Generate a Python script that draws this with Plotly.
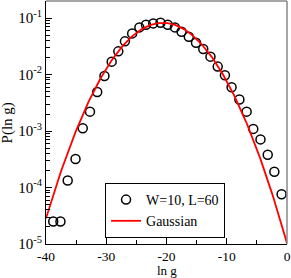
import numpy as np
import plotly.graph_objects as go

# Data
ln_g = [-38.8, -37.6, -36.4, -35.1, -33.9, -32.7, -31.5, -30.3, -29.1, -28.0, -26.9,
        -25.7, -24.5, -23.4, -22.2, -21.0, -19.8, -18.6, -17.5, -16.3, -15.1, -13.9,
        -12.7, -11.5, -10.3, -9.2, -7.9, -6.7, -5.6, -4.4, -3.2, -2.1, -0.9]
p_ln_g = [2.5e-5, 2.5e-5, 1.33e-4, 3.2e-4, 1.12e-3, 2.2e-3, 4.9e-3, 9.4e-3, 0.0169, 0.0257, 0.0386,
          0.0534, 0.0682, 0.0762, 0.0803, 0.0826, 0.0762, 0.0682, 0.0573, 0.0467, 0.0366, 0.0282,
          0.0207, 0.0138, 9.7e-3, 5.94e-3, 3.6e-3, 2.2e-3, 1.09e-3, 7.1e-4, 3.8e-4, 1.9e-4, 7.6e-5]

# Gaussian fit parameters (estimated)
gauss_mu = -20.6
gauss_sigma = 4.86
gauss_x = np.linspace(-40, 0, 201)
gauss_y = np.exp(-(gauss_x - gauss_mu) ** 2 / (2 * gauss_sigma ** 2)) / (np.sqrt(2 * np.pi) * gauss_sigma)

x_ticks = [-40, -30, -20, -10, 0]
x_ticklabels = ["-40", "-30", "-20", "-10", "0"]
y_ticks = [1e-5, 1e-4, 1e-3, 1e-2, 1e-1]
y_ticklabels = ["10<sup>-5</sup>", "10<sup>-4</sup>", "10<sup>-3</sup>", "10<sup>-2</sup>", "10<sup>-1</sup>"]
y_minor = [k * 10.0 ** n for n in range(-5, 0) for k in range(2, 10)]

x_title = "ln g"
y_title = "P(ln g)"

font_family = "Liberation Serif, Times New Roman, serif"

fig = go.Figure()
fig.add_trace(go.Scatter(
    x=ln_g, y=p_ln_g, mode="markers", name="W=10, L=60",
    marker=dict(symbol="circle-open", size=9, color="black", line=dict(width=1.5, color="black")),
))
fig.add_trace(go.Scatter(
    x=gauss_x, y=gauss_y, mode="lines", name="Gaussian",
    line=dict(color="red", width=1.8),
))

fig.update_layout(
    width=291, height=278,
    margin=dict(l=46, r=4, t=1, b=34, autoexpand=False),
    paper_bgcolor="white", plot_bgcolor="white",
    font=dict(family=font_family, size=15, color="black"),
    showlegend=True,
    legend=dict(
        x=0.245, y=0.251, xanchor="left", yanchor="top",
        bordercolor="black", borderwidth=1, bgcolor="white",
        font=dict(family=font_family, size=14, color="black"),
        tracegroupgap=0, itemwidth=30,
    ),
    annotations=[
        dict(text=x_title, xref="paper", yref="paper", x=0.5, y=-0.144,
             xanchor="center", yanchor="bottom", showarrow=False, borderpad=0,
             font=dict(family=font_family, size=13, color="black")),
        dict(text=y_title, xref="paper", yref="paper", x=-0.158, y=0.5,
             xanchor="center", yanchor="middle", showarrow=False, textangle=-90,
             font=dict(family=font_family, size=15, color="black")),
    ],
)
fig.update_xaxes(
    range=[-40, 0], tickmode="array", tickvals=x_ticks, ticktext=x_ticklabels,
    ticks="inside", ticklen=6, tickwidth=1, tickcolor="black",
    minor=dict(tickmode="array", tickvals=[-35, -25, -15, -5], ticks="inside", ticklen=4, tickcolor="black"),
    showline=True, linecolor="black", linewidth=1, mirror=False,
    showgrid=False, zeroline=False, automargin=False,
    tickfont=dict(size=13.5),
)
fig.update_yaxes(
    type="log", range=[-5, np.log10(0.2)], tickmode="array", tickvals=y_ticks, ticktext=y_ticklabels,
    ticks="inside", ticklen=6, tickwidth=1, tickcolor="black",
    minor=dict(tickmode="array", tickvals=y_minor, ticks="inside", ticklen=4, tickcolor="black"),
    showline=True, linecolor="black", linewidth=1, mirror=False,
    showgrid=False, zeroline=False, automargin=False,
    tickfont=dict(size=15),
)
# grey frame on top and right
fig.add_shape(type="line", xref="paper", yref="paper", x0=0, x1=1, y0=1, y1=1,
              line=dict(color="#888888", width=1.5))
fig.add_shape(type="line", xref="paper", yref="paper", x0=1, x1=1, y0=0, y1=1,
              line=dict(color="#888888", width=1.5))

fig.write_html("out.html", config={"displayModeBar": False},
               post_script="document.body.style.margin='0';document.body.style.overflow='hidden';")
